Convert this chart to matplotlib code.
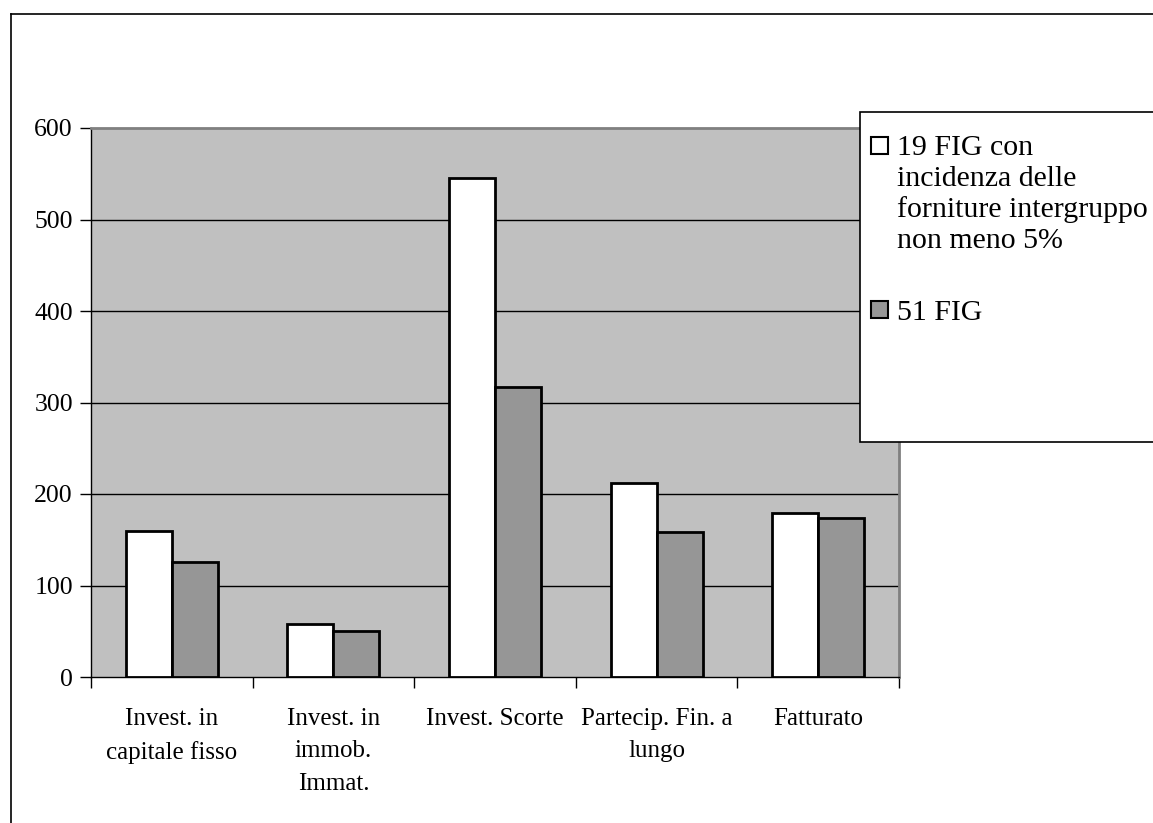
import matplotlib
matplotlib.use("Agg")
import matplotlib.pyplot as plt
from matplotlib.patches import Rectangle
from matplotlib.lines import Line2D
import numpy as np

plt.rcParams['font.family'] = ['Liberation Serif', 'DejaVu Serif']

# Data
categories = ["Invest. in\ncapitale fisso", "Invest. in\nimmob.\nImmat.",
              "Invest. Scorte", "Partecip. Fin. a\nlungo", "Fatturato"]
fig19_values = [160, 58, 545, 212, 179]
fig51_values = [126, 50, 317, 158, 174]
series_labels = ["19 FIG con\nincidenza delle\nforniture intergruppo\nnon meno 5%", "51 FIG"]
series_colors = ["#FFFFFF", "#969696"]
y_ticks = [0, 100, 200, 300, 400, 500, 600]

W, H = 1153, 823
fig = plt.figure(figsize=(W / 100, H / 100), dpi=100)

def fx(px):
    return px / W

def fy(py):
    return 1 - py / H

ax = fig.add_axes([fx(91), fy(677), fx(899) - fx(91), fy(128) - fy(677)])
ax.set_facecolor("#C0C0C0")

x = np.arange(len(categories))
bw = 0.285
ax.bar(x - bw / 2, fig19_values, width=bw, color=series_colors[0],
       edgecolor="black", linewidth=2, zorder=3)
ax.bar(x + bw / 2, fig51_values, width=bw, color=series_colors[1],
       edgecolor="black", linewidth=2, zorder=3)

ax.set_xlim(-0.5, len(categories) - 0.5)
ax.set_ylim(0, 600)

# gridlines
for v in y_ticks[1:-1]:
    ax.axhline(v, color="black", linewidth=1, zorder=1)

ax.set_yticks(y_ticks)
ax.tick_params(axis="y", direction="out", length=8, width=1, pad=5, labelsize=18.5)

ax.set_xticks(x)
ax.set_xticklabels(categories, fontsize=18, linespacing=1.62)
ax.tick_params(axis="x", which="major", length=0, pad=22)
ax.set_xticks(np.arange(-0.5, len(categories)), minor=True)
ax.tick_params(axis="x", which="minor", direction="out", length=8, width=1)

for side in ["left", "bottom"]:
    ax.spines[side].set_color("black")
    ax.spines[side].set_linewidth(1)
for side in ["top", "right"]:
    ax.spines[side].set_color("#808080")
    ax.spines[side].set_linewidth(2)

# outer chart frame
fig.add_artist(Line2D([fx(11), fx(11)], [fy(14), 0], color="black", linewidth=1.2))
fig.add_artist(Line2D([fx(11), 1], [fy(14), fy(14)], color="black", linewidth=1.2))

# legend box, running off the right edge
fig.add_artist(Rectangle((fx(860), fy(442)), fx(320), fy(112) - fy(442),
                         facecolor="white", edgecolor="black", linewidth=1.2))

# (square top, text top) in pixels for each legend entry
legend_rows = [(137, 135), (301, 300)]
for (sq_top, txt_top), label, color in zip(legend_rows, series_labels, series_colors):
    fig.add_artist(Rectangle((fx(871), fy(sq_top + 17)), fx(17), fy(sq_top) - fy(sq_top + 17),
                             facecolor=color, edgecolor="black", linewidth=1.5))
    fig.text(fx(897), fy(txt_top), label, fontsize=21.5, va="top", ha="left",
             linespacing=1.23)

fig.savefig("out.png", dpi=100)
